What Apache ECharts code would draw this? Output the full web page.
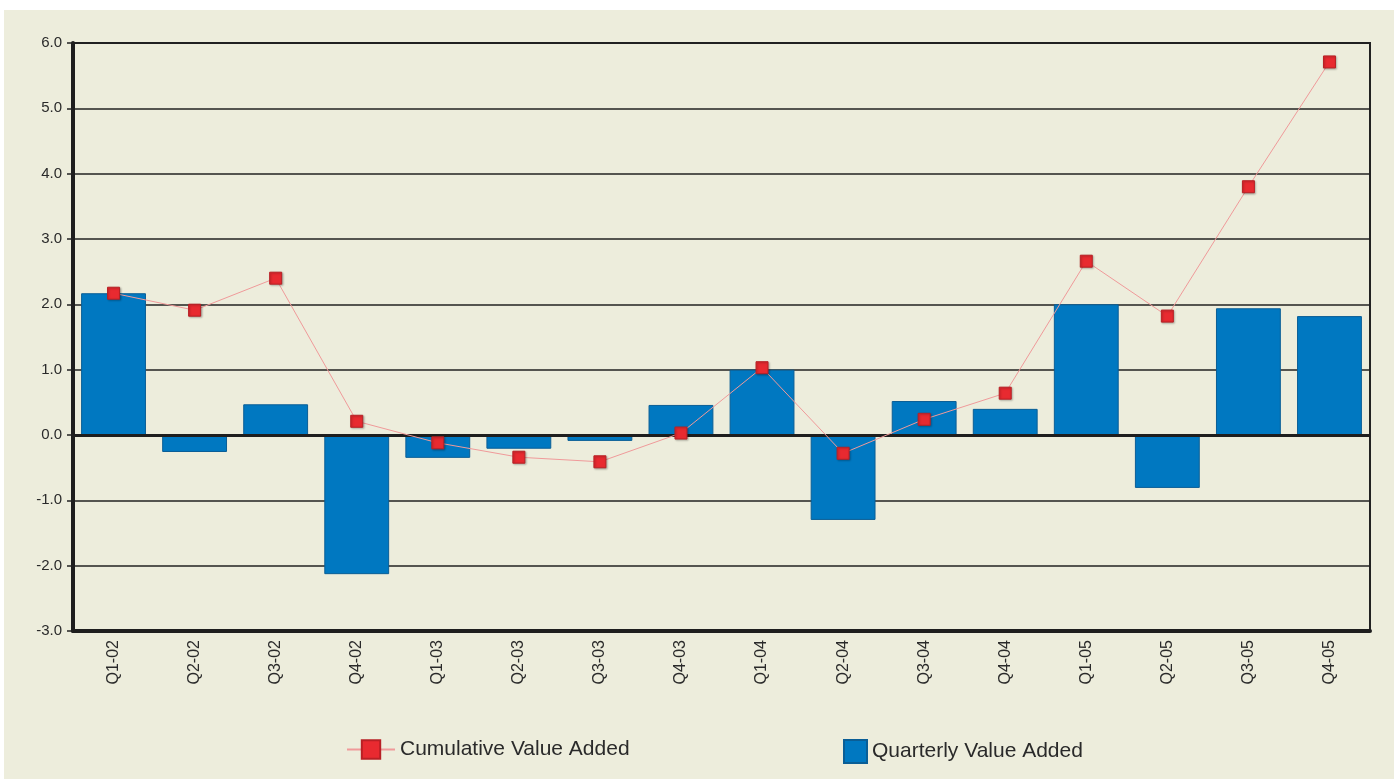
<!DOCTYPE html>
<html>
<head>
<meta charset="utf-8">
<script src="https://cdn.jsdelivr.net/npm/echarts@6/dist/echarts.min.js"></script>
<style>
  html, body { margin: 0; padding: 0; background: #ffffff; }
  #chart { width: 1394px; height: 781px; }
</style>
</head>
<body>
<div id="chart"></div>
<script>
// 数据
const quarters = ['Q1-02', 'Q2-02', 'Q3-02', 'Q4-02', 'Q1-03', 'Q2-03', 'Q3-03', 'Q4-03',
  'Q1-04', 'Q2-04', 'Q3-04', 'Q4-04', 'Q1-05', 'Q2-05', 'Q3-05', 'Q4-05']
const quarterlyValue = [2.17, -0.26, 0.47, -2.13, -0.35, -0.21, -0.09, 0.46,
  1.00, -1.30, 0.52, 0.40, 2.00, -0.81, 1.94, 1.82]
const cumulativeValue = [2.17, 1.91, 2.40, 0.21, -0.12, -0.34, -0.41, 0.03,
  1.03, -0.28, 0.24, 0.64, 2.66, 1.82, 3.80, 5.71]
const yTicks = { min: -3, max: 6, interval: 1 }

const myChart = echarts.init(document.getElementById('chart'))

const option = {
  backgroundColor: '#ffffff',
  animation: false,
  textStyle: { fontFamily: 'Liberation Sans, Arial, sans-serif' },
  graphic: [
    {
      type: 'rect',
      z: -10,
      shape: { x: 4, y: 10, width: 1390, height: 769 },
      style: { fill: '#EDEDDC' }
    }
  ],
  legend: [
    {
      data: ['Cumulative Value Added'],
      left: 346,
      top: 739,
      padding: 0,
      itemWidth: 48,
      itemHeight: 23,
      itemGap: 8,
      textStyle: { fontSize: 21, color: '#2a2a2a' }
    },
    {
      data: [{ name: 'Quarterly Value Added', icon: 'rect' }],
      left: 843,
      top: 739,
      padding: 0,
      itemWidth: 23,
      itemHeight: 23,
      itemGap: 8,
      textStyle: { fontSize: 21, color: '#2a2a2a' }
    }
  ],
  grid: {
    left: 73,
    right: 24,
    top: 43,
    bottom: 150,
    show: true,
    borderColor: '#222222',
    borderWidth: 2,
    backgroundColor: 'transparent'
  },
  xAxis: {
    type: 'category',
    data: quarters,
    axisLine: { onZero: false, lineStyle: { color: '#1e1e1e', width: 4 } },
    axisTick: { show: false },
    axisLabel: {
      rotate: 90,
      fontSize: 16,
      color: '#2a2a2a',
      margin: 9
    }
  },
  yAxis: {
    type: 'value',
    min: yTicks.min,
    max: yTicks.max,
    interval: yTicks.interval,
    axisLine: { show: true, lineStyle: { color: '#1e1e1e', width: 4 } },
    axisTick: { show: true, length: 6, lineStyle: { color: '#222', width: 1.5 } },
    axisLabel: {
      fontSize: 15,
      color: '#2a2a2a',
      margin: 11,
      formatter: v => v.toFixed(1)
    },
    splitLine: { lineStyle: { color: '#222222', width: 1.5 } }
  },
  series: [
    {
      name: 'Quarterly Value Added',
      type: 'bar',
      data: quarterlyValue,
      barCategoryGap: '20%',
      itemStyle: {
        color: '#0078C1',
        borderColor: '#0A5E96',
        borderWidth: 1
      },
      markLine: {
        silent: true,
        symbol: 'none',
        label: { show: false },
        lineStyle: { color: '#1e1e1e', width: 3, type: 'solid' },
        data: [{ yAxis: 0 }]
      }
    },
    {
      name: 'Cumulative Value Added',
      type: 'line',
      data: cumulativeValue,
      symbol: 'rect',
      symbolSize: 12,
      z: 5,
      lineStyle: { color: '#F09A9A', width: 1 },
      itemStyle: {
        color: '#E82A30',
        borderColor: '#B82025',
        borderWidth: 1,
        shadowColor: 'rgba(0,0,0,0.25)',
        shadowBlur: 2,
        shadowOffsetX: 1,
        shadowOffsetY: 1
      }
    }
  ]
}

myChart.setOption(option)
</script>
</body>
</html>
